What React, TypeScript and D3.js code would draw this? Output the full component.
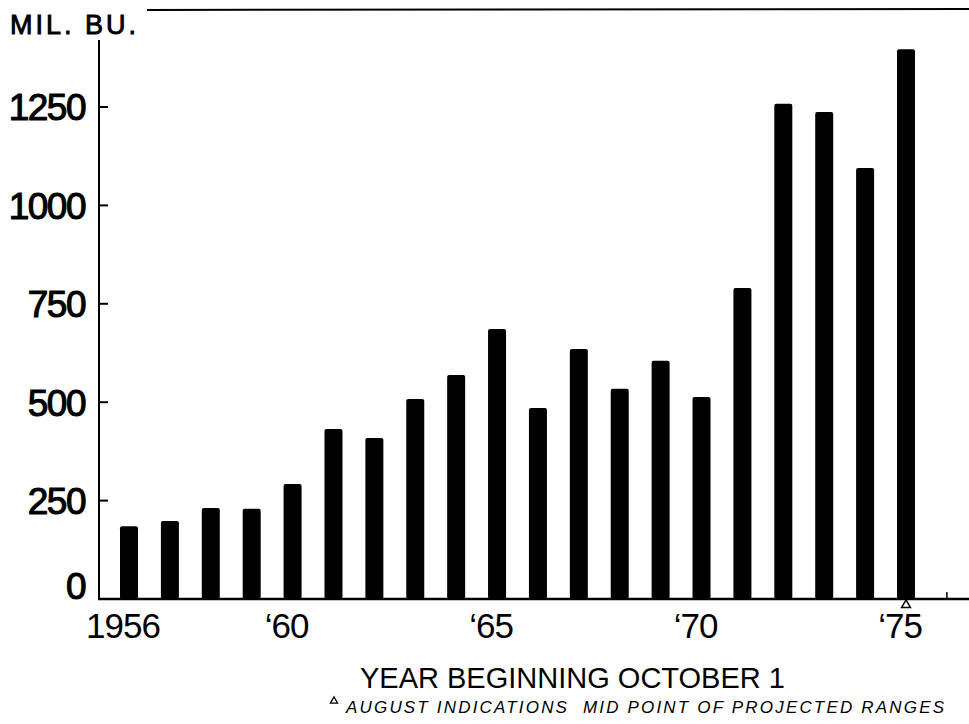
import * as d3 from "d3";
import { useEffect, useRef } from "react";

// corn exports, million bushels, year beginning October 1
const years = [
  1956, 1957, 1958, 1959, 1960, 1961, 1962, 1963, 1964, 1965,
  1966, 1967, 1968, 1969, 1970, 1971, 1972, 1973, 1974, 1975,
];
const exports = [
  185, 198, 231, 229, 292, 432, 409, 508, 569, 686,
  485, 635, 534, 605, 513, 790, 1258, 1237, 1095, 1397,
];
const yTicks = [0, 250, 500, 750, 1000, 1250];
const xTicks = [1956, 1960, 1965, 1970, 1975];
const xTickLabels = ["1956", "\u201860", "\u201865", "\u201870", "\u201875"];
const augustYears = [1975];

const width = 969;
const height = 724;
const font = "'Liberation Sans', Arial, Helvetica, sans-serif";

function ExportChart() {
  const ref = useRef<SVGSVGElement>(null);

  useEffect(() => {
    const svg = d3.select(ref.current);
    svg.selectAll("*").remove();

    const x = d3.scaleLinear().domain([1956, 1975]).range([129, 906]);
    const y = d3.scaleLinear().domain([0, 1250]).range([599, 107]);
    const barW = 18;
    const axisX = 99;

    // top rule
    svg
      .append("line")
      .attr("x1", 147)
      .attr("x2", width)
      .attr("y1", 10)
      .attr("y2", 9)
      .attr("stroke", "#000")
      .attr("stroke-width", 2);

    svg
      .append("text")
      .attr("x", 10)
      .attr("y", 34)
      .attr("font-family", font)
      .attr("font-size", 27)
      .attr("letter-spacing", 3)
      .attr("stroke", "#000")
      .attr("stroke-width", 0.9)
      .text("MIL. BU.");

    // bars
    svg
      .append("g")
      .selectAll("rect")
      .data(years)
      .join("rect")
      .attr("x", (d) => x(d) - barW / 2)
      .attr("y", (d, i) => y(exports[i]))
      .attr("width", barW)
      .attr("height", (d, i) => y(0) - y(exports[i]))
      .attr("rx", 2)
      .attr("fill", "#000");

    // y axis
    svg
      .append("line")
      .attr("x1", axisX)
      .attr("x2", axisX)
      .attr("y1", 40)
      .attr("y2", y(0))
      .attr("stroke", "#000")
      .attr("stroke-width", 2);

    const yt = svg.append("g").selectAll("g").data(yTicks).join("g");
    yt.filter((d) => d > 0)
      .append("line")
      .attr("x1", axisX)
      .attr("x2", axisX + 9)
      .attr("y1", (d) => y(d))
      .attr("y2", (d) => y(d))
      .attr("stroke", "#000")
      .attr("stroke-width", 2);
    yt.append("text")
      .attr("x", 85)
      .attr("y", (d) => y(d))
      .attr("dy", (d) => (d === 0 ? "0" : "0.36em"))
      .attr("text-anchor", "end")
      .attr("font-family", font)
      .attr("font-size", 37)
      .attr("letter-spacing", -1.5)
      .attr("stroke", "#000")
      .attr("stroke-width", 1.1)
      .text((d) => d);

    // x axis
    svg
      .append("line")
      .attr("x1", axisX - 1)
      .attr("x2", width)
      .attr("y1", y(0))
      .attr("y2", y(0))
      .attr("stroke", "#000")
      .attr("stroke-width", 2.5);

    svg
      .append("line")
      .attr("x1", x(1976))
      .attr("x2", x(1976))
      .attr("y1", y(0))
      .attr("y2", y(0) - 7)
      .attr("stroke", "#000")
      .attr("stroke-width", 1.5);

    svg
      .append("g")
      .selectAll("text")
      .data(xTicks)
      .join("text")
      .attr("x", (d) => x(d) - 6)
      .attr("y", 638)
      .attr("text-anchor", "middle")
      .attr("font-family", font)
      .attr("font-size", 35)
      .attr("letter-spacing", -1)
      .text((d, i) => xTickLabels[i]);

    // august indication markers
    const tri = d3.symbol(d3.symbolTriangle, 34);
    svg
      .append("g")
      .selectAll("path")
      .data(augustYears)
      .join("path")
      .attr("transform", (d) => `translate(${x(d)},${y(0) + 6})`)
      .attr("d", tri())
      .attr("fill", "#fff")
      .attr("stroke", "#000")
      .attr("stroke-width", 1.5);

    svg
      .append("text")
      .attr("x", 360)
      .attr("y", 688)
      .attr("font-family", font)
      .attr("font-size", 29)
      .text("YEAR BEGINNING OCTOBER 1");

    svg
      .append("path")
      .attr("transform", "translate(334,701)")
      .attr("d", d3.symbol(d3.symbolTriangle, 22)())
      .attr("fill", "#fff")
      .attr("stroke", "#000")
      .attr("stroke-width", 1.3);

    svg
      .append("text")
      .attr("x", 346)
      .attr("y", 713)
      .attr("font-family", font)
      .attr("font-size", 17)
      .attr("font-style", "italic")
      .attr("textLength", 598)
      .attr("lengthAdjust", "spacing")
      .style("white-space", "pre")
      .text("AUGUST INDICATIONS  MID POINT OF PROJECTED RANGES");
  }, []);

  return (
    <svg
      ref={ref}
      width={width}
      height={height}
      style={{ position: "absolute", left: 0, top: 0, background: "#fff" }}
    ></svg>
  );
}

export default function App() {
  return <ExportChart />;
}
